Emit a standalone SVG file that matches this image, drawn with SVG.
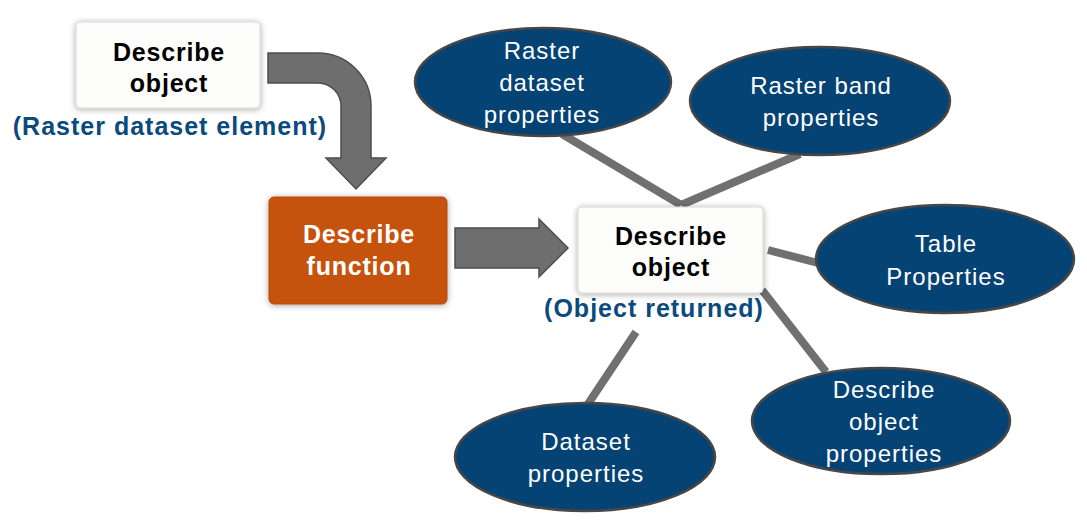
<svg xmlns="http://www.w3.org/2000/svg" width="1087" height="527" viewBox="0 0 1087 527">
<defs>
<filter id="sh" x="-20%" y="-20%" width="140%" height="140%">
<feGaussianBlur in="SourceAlpha" stdDeviation="3"/>
<feOffset dx="0" dy="1" result="b"/>
<feComponentTransfer><feFuncA type="linear" slope="0.35"/></feComponentTransfer>
<feMerge><feMergeNode/><feMergeNode in="SourceGraphic"/></feMerge>
</filter>
</defs>
<style>
.box{fill:#fdfdfb;stroke:#d8d8d8;stroke-width:1}
.fn{fill:#c5520e;stroke:#b84a0c;stroke-width:1}
.ell{fill:#044374;stroke:#474747;stroke-width:2.5}
.bt{font-family:"Liberation Sans",Arial,sans-serif;font-weight:bold;font-size:25px;letter-spacing:0.8px;text-anchor:middle;fill:#000}
.wt{font-family:"Liberation Sans",Arial,sans-serif;font-weight:bold;font-size:25px;letter-spacing:0.8px;text-anchor:middle;fill:#fff}
.lbl{font-family:"Liberation Sans",Arial,sans-serif;font-weight:bold;font-size:25px;letter-spacing:1px;text-anchor:middle;fill:#0b4a7d}
.et{font-family:"Liberation Sans",Arial,sans-serif;font-size:24px;letter-spacing:1px;text-anchor:middle;fill:#fff}
.ln{stroke:#707070;stroke-width:8;fill:none}
.arr{fill:#6e6e6e;stroke:#4e4e4e;stroke-width:1.5}
</style>
<rect width="1087" height="527" fill="#fff"/>
<g id="connectors">
<line class="ln" x1="562" y1="134" x2="681" y2="205"/>
<line class="ln" x1="800" y1="154" x2="681" y2="205"/>
<line class="ln" x1="768" y1="250" x2="818" y2="263"/>
<line class="ln" x1="762" y1="290" x2="826" y2="372"/>
<line class="ln" x1="636" y1="332" x2="588" y2="404"/>
<path class="arr" d="M 268 53 H 318 A 53 53 0 0 1 371 106 V 158 H 386 L 356 189 L 326 158 H 341 V 106 A 23 23 0 0 0 318 83 H 268 Z"/>
<path class="arr" d="M 455 228 H 539 V 219 L 568 248 L 539 277 V 268 H 455 Z"/>
</g>
<g id="describe-object-input">
<rect class="box" x="76" y="22" width="184" height="86" rx="4" filter="url(#sh)"/>
<text class="bt" x="169" y="61">Describe</text>
<text class="bt" x="169" y="92">object</text>
<text class="lbl" x="170" y="135">(Raster dataset element)</text>
</g>
<g id="describe-function">
<rect class="fn" x="269" y="197" width="178" height="107" rx="5" filter="url(#sh)"/>
<text class="wt" x="359" y="243">Describe</text>
<text class="wt" x="359" y="275">function</text>
</g>
<g id="describe-object-returned">
<rect class="box" x="578" y="207" width="185" height="86" rx="4" filter="url(#sh)"/>
<text class="bt" x="671" y="245">Describe</text>
<text class="bt" x="671" y="276">object</text>
<text class="lbl" x="654" y="317">(Object returned)</text>
</g>
<g id="raster-dataset-properties">
<ellipse class="ell" cx="543" cy="82" rx="128" ry="54"/>
<text class="et" x="542" y="59">Raster</text>
<text class="et" x="542" y="91">dataset</text>
<text class="et" x="542" y="123">properties</text>
</g>
<g id="raster-band-properties">
<ellipse class="ell" cx="820" cy="101" rx="130" ry="54"/>
<text class="et" x="821" y="94">Raster band</text>
<text class="et" x="821" y="126">properties</text>
</g>
<g id="table-properties">
<ellipse class="ell" cx="945" cy="259" rx="129" ry="54"/>
<text class="et" x="946" y="252">Table</text>
<text class="et" x="946" y="285">Properties</text>
</g>
<g id="describe-object-properties">
<ellipse class="ell" cx="881" cy="421" rx="129" ry="53"/>
<text class="et" x="884" y="398">Describe</text>
<text class="et" x="884" y="430">object</text>
<text class="et" x="884" y="462">properties</text>
</g>
<g id="dataset-properties">
<ellipse class="ell" cx="585" cy="457" rx="130" ry="54"/>
<text class="et" x="586" y="450">Dataset</text>
<text class="et" x="586" y="482">properties</text>
</g>
</svg>
